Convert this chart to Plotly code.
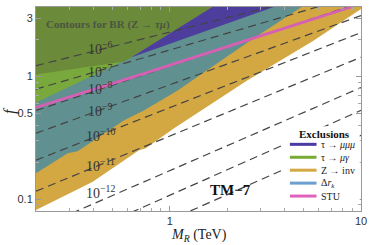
import math
import plotly.graph_objects as go

# ---------------- data ----------------
x_range = [0.2, 10.0]
y_range = [0.08, 3.7]

# Z -> inv excluded region: lower (white) boundary then top corners
zinv_M = [0.2, 0.394, 0.691, 0.751, 1.049, 2.54, 5.64, 10.0, 10.0, 0.2]
zinv_f = [0.0817, 0.138, 0.251, 0.260, 0.378, 0.928, 1.96, 3.56, 3.7, 3.7]

# Delta r_k region (teal where it overlaps Z -> inv)
drk_M = [0.2, 0.293, 0.330, 0.578, 0.733, 1.10, 2.63, 4.89, 0.2]
drk_f = [0.163, 0.237, 0.246, 0.440, 0.530, 0.770, 1.96, 3.7, 3.7]

# tau -> mu gamma region (light green part)
mug_M = [0.2, 0.628, 1.67, 0.2]
mug_f = [0.615, 1.43, 3.7, 3.7]

# overlap (dark olive) part
olive_M = [0.2, 0.578, 0.628, 1.67, 0.2]
olive_f = [1.04, 1.33, 1.43, 3.7, 3.7]

# tau -> mu mu mu region
mmm_M = [0.628, 1.67, 3.50]
mmm_f = [1.43, 3.7, 3.7]

# STU bound
stu_M = [0.2, 0.733, 3.22, 8.88]
stu_f = [0.56, 1.058, 2.234, 3.70]

# BR(Z -> tau mu) contours: exponent, endpoints (M_R, f)
contour_exp = [-6, -7, -8, -9, -10, -11, -12, -13, -14]
contour_M = [[0.2, 10.0]] * 9
contour_f = [[1.228, 5.69], [0.790, 4.71], [0.529, 4.02], [0.345, 3.15],
             [0.208, 2.29], [0.116, 1.44], [0.0573, 0.814], [0.0352, 0.530],
             [0.0221, 0.332]]
# contour label positions (M_R, f)
label_M = [0.434, 0.434, 0.434, 0.434, 0.434, 0.434, 0.434]
label_f = [1.72, 1.12, 0.80, 0.53, 0.332, 0.190, 0.114]

legend_names = ["τ → <i>μμμ</i>", "τ → <i>μγ</i>", "Z → inv", "Δ<i>r<sub>k</sub></i>", "STU"]
legend_colors = ["#4b3aa6", "#78ab35", "#d4a843", "#6a9fd0", "#e062bc"]

# ---------------- figure ----------------
fig = go.Figure()

def poly(M, f, color):
    fig.add_trace(go.Scatter(x=M, y=f, mode="lines", fill="toself",
                             fillcolor=color, line=dict(width=0, color=color),
                             hoverinfo="skip", showlegend=False))

poly(zinv_M, zinv_f, "#d3a742")
poly(drk_M, drk_f, "#609190")
poly(mug_M, mug_f, "#79a83d")
poly(olive_M, olive_f, "#6b8a3a")
poly(mmm_M, mmm_f, "#4d3d9d")

for M, f in zip(contour_M, contour_f):
    fig.add_trace(go.Scatter(x=M, y=f, mode="lines",
                             line=dict(color="#444444", width=1.2, dash="8px,5px"),
                             hoverinfo="skip", showlegend=False))

fig.add_trace(go.Scatter(x=stu_M, y=stu_f, mode="lines",
                         line=dict(color="#d660b4", width=2.8),
                         hoverinfo="skip", showlegend=False))

for e, lm, lf in zip(contour_exp, label_M, label_f):
    fig.add_annotation(x=math.log10(lm), y=math.log10(lf), xref="x", yref="y",
                       showarrow=False, text=f"10<sup>−{-e}</sup>",
                       xanchor="center", yanchor="middle",
                       font=dict(family="Liberation Serif", size=14, color="#353535"))

fig.add_annotation(x=math.log10(0.22), y=math.log10(2.65), xref="x", yref="y",
                   showarrow=False, xanchor="left", yanchor="middle",
                   text="<b>Contours for BR (Z → <i>τμ</i>)</b>",
                   font=dict(family="Liberation Serif", size=11, color="#4a5640"))
fig.add_annotation(x=math.log10(2.07), y=math.log10(0.119), xref="x", yref="y",
                   showarrow=False, text="<b>TM−7</b>", xanchor="center", yanchor="middle",
                   font=dict(family="Liberation Serif", size=15, color="#111111"))

# legend (manual, compact like the reference)
fig.add_shape(type="rect", xref="paper", yref="paper", x0=0.766, x1=0.996,
              y0=0.04, y1=0.415, fillcolor="white", line=dict(width=0), layer="above")
fig.add_annotation(x=0.8875, y=0.3756, xref="paper", yref="paper", showarrow=False,
                   text="<b>Exclusions</b>", xanchor="center", yanchor="middle",
                   font=dict(family="Liberation Serif", size=11, color="#111"))
row_y = [0.3268, 0.2634, 0.2, 0.1366, 0.0732]
for name, col, ry in zip(legend_names, legend_colors, row_y):
    fig.add_shape(type="line", xref="paper", yref="paper", x0=0.7812, x1=0.8632,
                  y0=ry, y1=ry, line=dict(color=col, width=3), layer="above")
    fig.add_annotation(x=0.8723, y=ry, xref="paper", yref="paper", showarrow=False,
                       xanchor="left", yanchor="middle", text=name,
                       font=dict(family="Liberation Serif", size=10, color="#222"))

# axis titles
fig.add_annotation(x=0.503, y=-0.118, xref="paper", yref="paper", showarrow=False,
                   xanchor="center", yanchor="middle", text="<i>M<sub>R</sub></i> (TeV)",
                   font=dict(family="Liberation Serif", size=14, color="#222"))
fig.add_annotation(x=-0.08, y=0.49, xref="paper", yref="paper", showarrow=False,
                   xanchor="center", yanchor="middle",
                   text="<i>f</i>", textangle=-90,
                   font=dict(family="Liberation Serif", size=16, color="#222"))

fig.update_layout(
    width=373, height=245,
    margin=dict(l=36, r=8, t=6, b=34),
    paper_bgcolor="white", plot_bgcolor="white",
    showlegend=False,
)

fig.update_xaxes(type="log", range=[math.log10(x_range[0]), math.log10(x_range[1])],
                 tickvals=[1, 10], ticktext=["1", "10"],
                 ticks="inside", ticklen=5, tickcolor="#999", mirror="allticks",
                 showline=True, linecolor="#999", linewidth=1, showgrid=False,
                 zeroline=False,
                 minor=dict(tickvals=[0.3, 0.4, 0.5, 0.6, 0.7, 0.8, 0.9, 2, 3, 4, 5, 6, 7, 8, 9],
                            ticks="inside", ticklen=3, tickcolor="#aaa", showgrid=False),
                 tickfont=dict(family="Liberation Sans", size=11, color="#333"))
fig.update_yaxes(type="log", range=[math.log10(y_range[0]), math.log10(y_range[1])],
                 tickvals=[0.1, 0.5, 1, 3], ticktext=["0.1", "0.5", "1", "3"],
                 ticks="inside", ticklen=5, tickcolor="#999", mirror="allticks",
                 showline=True, linecolor="#999", linewidth=1, showgrid=False,
                 zeroline=False,
                 minor=dict(tickvals=[0.09, 0.2, 0.3, 0.4, 0.6, 0.7, 0.8, 0.9, 2],
                            ticks="inside", ticklen=3, tickcolor="#aaa", showgrid=False),
                 tickfont=dict(family="Liberation Sans", size=11, color="#333"))

fig.write_html("out.html", config={"displayModeBar": False},
               post_script="document.body.style.margin='0';document.body.style.padding='0';")
